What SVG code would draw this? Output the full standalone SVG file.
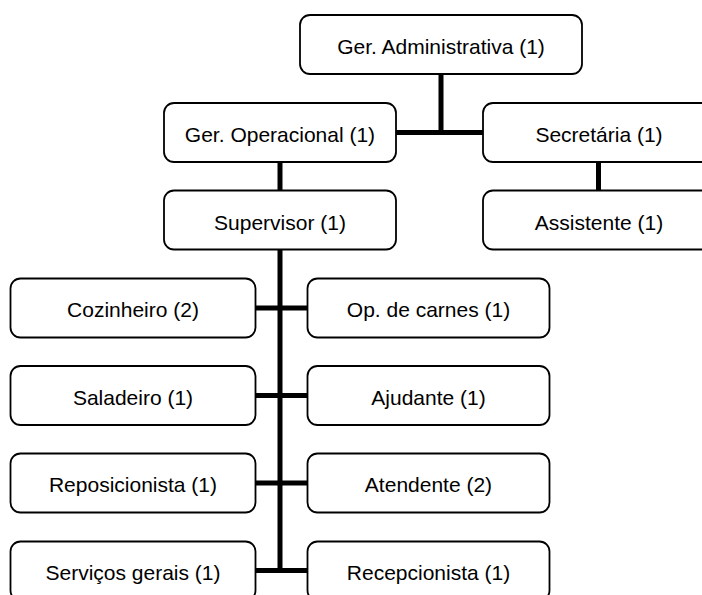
<svg xmlns="http://www.w3.org/2000/svg" width="702" height="595" viewBox="0 0 702 595">
<style>
.box{fill:#fff;stroke:#000;stroke-width:1.8}
.lbl{font-family:"Liberation Sans",Arial,sans-serif;font-size:21px;fill:#000;text-anchor:middle}
.con{stroke:#000;stroke-width:5;fill:none}
</style>
<rect width="702" height="595" fill="#fff"/>
<g id="connectors">
<path class="con" d="M441,74 V132.5 M396,132.5 H483"/>
<path class="con" d="M598.5,162 V190"/>
<path class="con" d="M280,162 V191"/>
<path class="con" d="M280,249 V573"/>
<path class="con" d="M255.5,308 H307.5 M255.5,395.5 H307.5 M255.5,483 H307.5 M255.5,570.5 H307.5"/>
</g>
<g id="ger-adm"><rect class="box" x="300" y="15" width="282" height="59" rx="10"/><text class="lbl" x="441" y="54">Ger. Administrativa (1)</text></g>
<g id="ger-op"><rect class="box" x="164" y="103" width="232" height="59" rx="10"/><text class="lbl" x="280" y="142">Ger. Operacional (1)</text></g>
<g id="secretaria"><rect class="box" x="483" y="103" width="232" height="59" rx="10"/><text class="lbl" x="599" y="142">Secretária (1)</text></g>
<g id="supervisor"><rect class="box" x="164" y="190.5" width="232" height="59" rx="10"/><text class="lbl" x="280" y="229.5">Supervisor (1)</text></g>
<g id="assistente"><rect class="box" x="483" y="190.5" width="232" height="59" rx="10"/><text class="lbl" x="599" y="229.5">Assistente (1)</text></g>
<g id="cozinheiro"><rect class="box" x="10.5" y="278.5" width="245" height="59" rx="10"/><text class="lbl" x="133" y="317">Cozinheiro (2)</text></g>
<g id="op-carnes"><rect class="box" x="307.5" y="278.5" width="242" height="59" rx="10"/><text class="lbl" x="428.5" y="317">Op. de carnes (1)</text></g>
<g id="saladeiro"><rect class="box" x="10.5" y="366" width="245" height="59" rx="10"/><text class="lbl" x="133" y="404.5">Saladeiro (1)</text></g>
<g id="ajudante"><rect class="box" x="307.5" y="366" width="242" height="59" rx="10"/><text class="lbl" x="428.5" y="404.5">Ajudante (1)</text></g>
<g id="reposicionista"><rect class="box" x="10.5" y="453.5" width="245" height="59" rx="10"/><text class="lbl" x="133" y="492">Reposicionista (1)</text></g>
<g id="atendente"><rect class="box" x="307.5" y="453.5" width="242" height="59" rx="10"/><text class="lbl" x="428.5" y="492">Atendente (2)</text></g>
<g id="servicos"><rect class="box" x="10.5" y="541.5" width="245" height="59" rx="10"/><text class="lbl" x="133" y="580">Serviços gerais (1)</text></g>
<g id="recepcionista"><rect class="box" x="307.5" y="541.5" width="242" height="59" rx="10"/><text class="lbl" x="428.5" y="580">Recepcionista (1)</text></g>
</svg>
